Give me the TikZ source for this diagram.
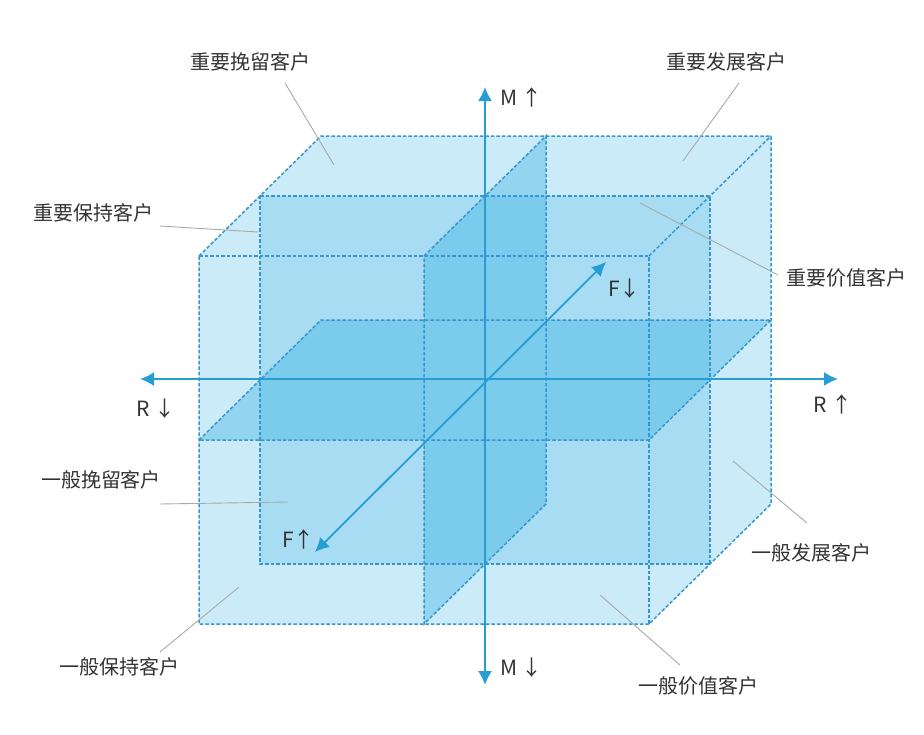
\documentclass[tikz,border=0pt]{standalone}
\usepackage{fontspec}
\setmainfont{Noto Sans CJK SC}
\usetikzlibrary{arrows.meta}
\definecolor{cubeblue}{RGB}{41,170,225}
\definecolor{axisblue}{RGB}{38,158,212}
\definecolor{edgeblue}{RGB}{55,150,205}
\definecolor{leadgray}{RGB}{165,170,172}
\definecolor{textgray}{RGB}{51,51,51}
\tikzset{
  edge/.style={edgeblue, line width=1.5pt, dash pattern=on 3.5pt off 2pt},
  axis/.style={axisblue, line width=1.8pt, {Latex[length=14pt,width=14pt]}-{Latex[length=14pt,width=14pt]}},
  leader/.style={leadgray, line width=0.9pt},
  lbl/.style={text=textgray, font=\fontsize{20}{24}\selectfont, inner sep=0pt},
  axlbl/.style={text=textgray, font=\fontsize{21}{24}\selectfont, inner sep=0pt, anchor=west}
}
\begin{document}
\begin{tikzpicture}[x=1pt,y=-1pt]
  \useasboundingbox (0,0) rectangle (924,734);
  \def\Hw{225}   % half width of the cube (R)
  \def\Hh{184}   % half height of the cube (M)
  \def\Dx{-61}   % depth offset, x (F)
  \def\Dy{-60}   % depth offset, y (F)

  \begin{scope}[shift={(485pt,-380pt)}, x={(\Hw pt,0pt)}, y={(0pt,\Hh pt)}, z={(\Dx pt,\Dy pt)}]
    % transparent layers
    \fill[cubeblue, fill opacity=0.24] (-1,1,1) -- (-1,1,-1) -- (1,1,-1) -- (1,-1,-1) -- (1,-1,1) -- (-1,-1,1) -- cycle;
    \fill[cubeblue, fill opacity=0.22] (-1,1,0) -- (1,1,0) -- (1,-1,0) -- (-1,-1,0) -- cycle;
    \begin{scope}[transparency group, opacity=0.35]
      \fill[cubeblue] (0,1,1) -- (0,1,-1) -- (0,-1,-1) -- (0,-1,1) -- cycle;
      \fill[cubeblue] (-1,0,1) -- (-1,0,-1) -- (1,0,-1) -- (1,0,1) -- cycle;
    \end{scope}
    % dashed edges
    \draw[edge] (-1,1,1) -- (-1,1,-1) -- (1,1,-1) -- (1,-1,-1) -- (1,-1,1) -- (-1,-1,1) -- cycle;
    \draw[edge] (-1,1,1) -- (1,1,1) -- (1,-1,1);
    \draw[edge] (1,1,1) -- (1,1,-1);
    \draw[edge] (-1,1,0) -- (1,1,0) -- (1,-1,0) -- (-1,-1,0) -- cycle;
    \draw[edge] (0,1,1) -- (0,1,-1) -- (0,-1,-1) -- (0,-1,1) -- cycle;
    \draw[edge] (-1,0,1) -- (-1,0,-1) -- (1,0,-1) -- (1,0,1) -- cycle;
  \end{scope}

  % axes
  \coordinate (mtop) at (485,87);
  \coordinate (mbot) at (485,685);
  \coordinate (rlft) at (140,379);
  \coordinate (rrgt) at (838,379);
  \coordinate (ffrt) at (315,552);
  \coordinate (fbck) at (606,262);
  \draw[axis] (mbot) -- (mtop);
  \draw[axis] (rlft) -- (rrgt);
  \draw[axis] (ffrt) -- (fbck);

  \node[axlbl] (mup) at (500,97) {M ↑};
  \node[axlbl] (mdn) at (500,668) {M ↓};
  \node[axlbl] (rdn) at (136,409) {R ↓};
  \node[axlbl] (rup) at (813,404) {R ↑};
  \node[axlbl] (fdn) at (608,289) {F↓};
  \node[axlbl] (fup) at (282,539) {F↑};

  % customer labels with leaders
  \foreach \nm/\px/\py/\txt/\ax/\ay/\bx/\by in {
      wl/250/62/重要挽留客户/285/83/334/165,
      fz/726/62/重要发展客户/739/83/683/161,
      bc/93/213/重要保持客户/160/226/258/232,
      jz/846/278/重要价值客户/778/275/640/203,
      ywl/101/480/一般挽留客户/160/504/288/502,
      ybc/119/667/一般保持客户/160/652/239/587,
      yfz/811/553/一般发展客户/807/523/733/461,
      yjz/698/686/一般价值客户/680/665/600/595} {
    \node[lbl] (\nm) at (\px,\py) {\txt};
    \coordinate (\nm-a) at (\ax,\ay);
    \coordinate (\nm-b) at (\bx,\by);
    \draw[leader] (\nm-a) -- (\nm-b);
  }
\end{tikzpicture}
\end{document}
